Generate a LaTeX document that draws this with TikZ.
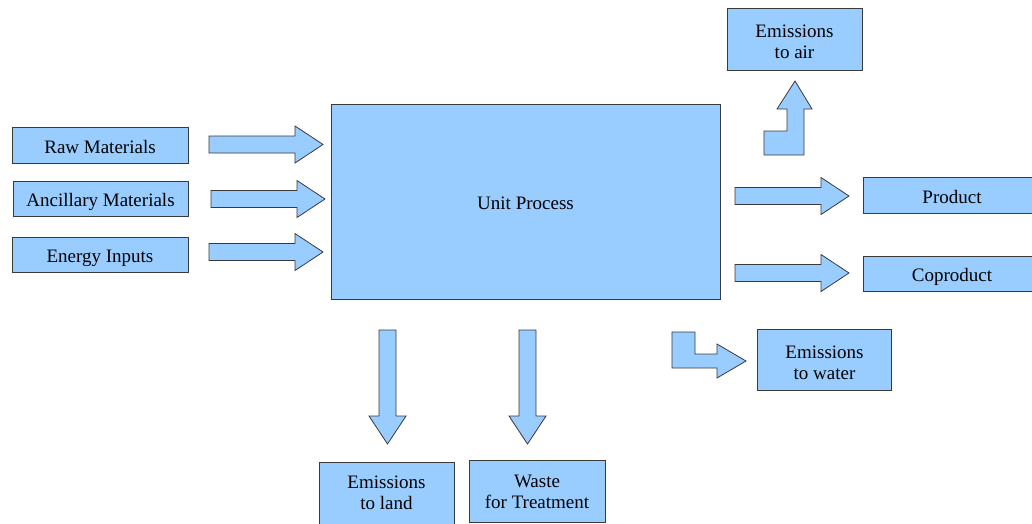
\documentclass[tikz,border=0pt]{standalone}
\usepackage{fontspec}
\setmainfont{LiberationSerif}[Extension=.ttf, UprightFont=*-Regular]
\definecolor{boxblue}{HTML}{99CCFF}
\definecolor{edgegray}{HTML}{3A3A3A}
\tikzset{
  box/.style={draw=edgegray, fill=boxblue, line width=0.8pt, inner sep=0pt,
    align=center, text height=15.5pt, text depth=0pt, font=\fontsize{19}{21}\selectfont},
  twoline/.style={text height=38.6pt},
  blockarrow/.style={draw=edgegray, fill=boxblue, line width=0.8pt, line join=miter},
  flatarrow/.pic={\draw[blockarrow] (0,-8.5) -- (86,-8.5) -- (86,-18.5) -- (114,0)
    -- (86,18.5) -- (86,8.5) -- (0,8.5) -- cycle;}
}
\begin{document}
\begin{tikzpicture}[x=1pt,y=-1pt]
\useasboundingbox (0,0) rectangle (1032,523);
% processo
\node[box, minimum width=389, minimum height=195] (unit) at (525.5,201.5) {Unit Process};
% ingressi
\node[box, minimum width=176, minimum height=36] (raw) at (100,145.3) {Raw Materials};
\node[box, minimum width=175, minimum height=35] (anc) at (100.5,198.5) {Ancillary Materials};
\node[box, minimum width=176, minimum height=35] (energy) at (100,254.5) {Energy Inputs};
\pic (inRaw) at (209,144.5) {flatarrow};
\pic (inAnc) at (211,199) {flatarrow};
\pic (inEnergy) at (209,252) {flatarrow};
% uscite
\node[box, minimum width=178, minimum height=36] (product) at (952,195.3) {Product};
\node[box, minimum width=178, minimum height=35] (coproduct) at (952,273.5) {Coproduct};
\pic (outProduct) at (735,196) {flatarrow};
\pic (outCoproduct) at (735,273) {flatarrow};
% emissioni
\node[box, twoline, minimum width=135, minimum height=62] (air) at (794.5,39) {Emissions\\to air};
\node[box, twoline, minimum width=134, minimum height=61] (water) at (824.5,360) {Emissions\\to water};
\node[box, twoline, text height=32.6pt, minimum width=135, minimum height=62] (land) at (386.5,493) {Emissions\\to land};
\node[box, twoline, text height=34.6pt, minimum width=136, minimum height=62] (waste) at (537,491) {Waste\\for Treatment};
\draw[blockarrow] (764,155) -- (804,155) -- (804,109) -- (812,109) -- (795,81)
  -- (777,109) -- (787,109) -- (787,131) -- (764,131) -- cycle;
\draw[blockarrow] (672,332) -- (695,332) -- (695,354) -- (717,354) -- (717,344)
  -- (746,361) -- (717,378) -- (717,368) -- (672,368) -- cycle;
\pic[rotate=-90] (outLand) at (387.5,330) {flatarrow};
\pic[rotate=-90] (outWaste) at (527.5,330) {flatarrow};
\end{tikzpicture}
\end{document}
